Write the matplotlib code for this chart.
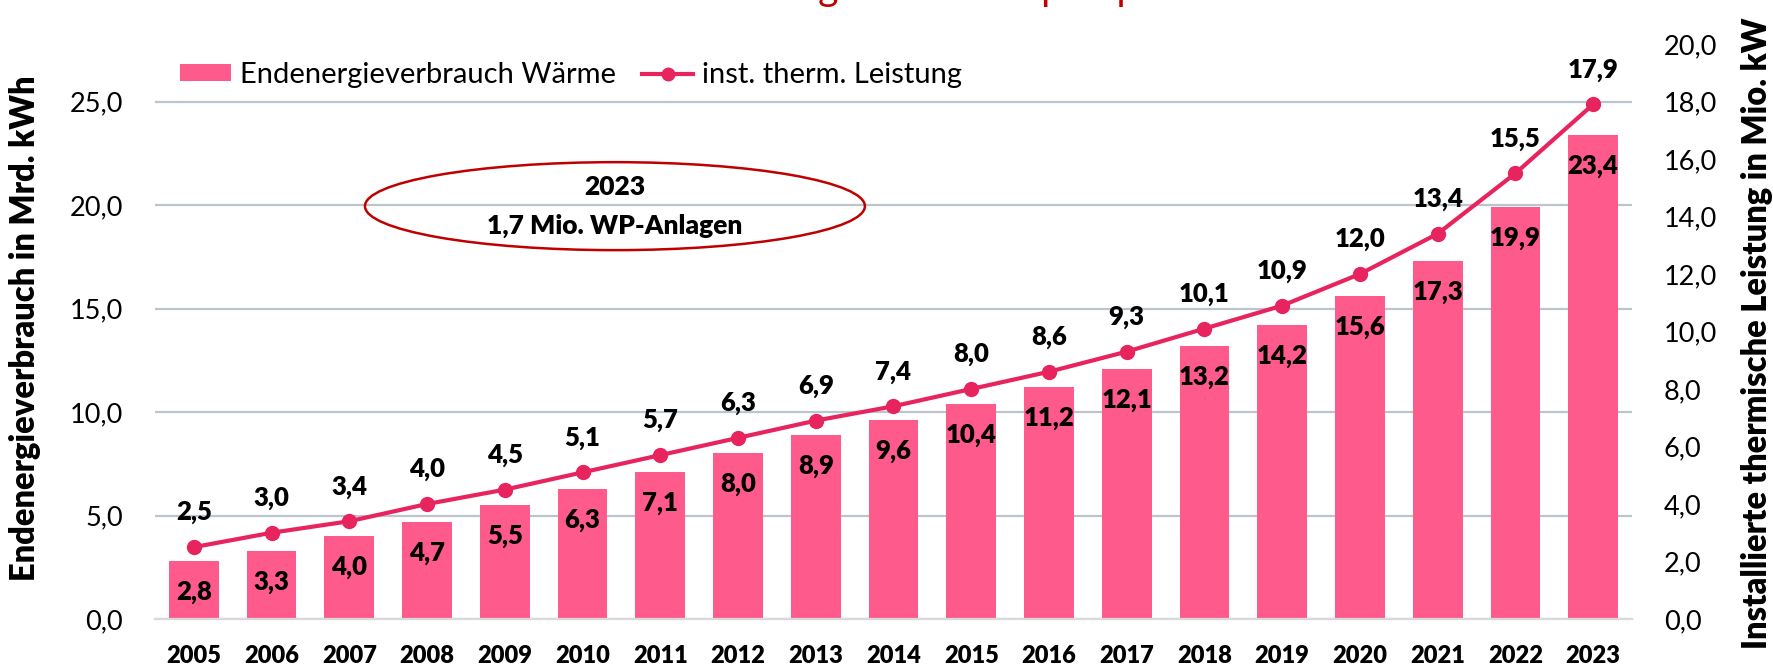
import matplotlib
matplotlib.use("Agg")
import matplotlib.pyplot as plt
from matplotlib.patches import Ellipse, Patch
from matplotlib.lines import Line2D
import numpy as np

plt.rcParams['font.family'] = ['Lato', 'DejaVu Sans']

years = ["2005", "2006", "2007", "2008", "2009", "2010", "2011", "2012", "2013", "2014",
         "2015", "2016", "2017", "2018", "2019", "2020", "2021", "2022", "2023"]
waerme = [2.8, 3.3, 4.0, 4.7, 5.5, 6.3, 7.1, 8.0, 8.9, 9.6,
          10.4, 11.2, 12.1, 13.2, 14.2, 15.6, 17.3, 19.9, 23.4]
leistung = [2.5, 3.0, 3.4, 4.0, 4.5, 5.1, 5.7, 6.3, 6.9, 7.4,
            8.0, 8.6, 9.3, 10.1, 10.9, 12.0, 13.4, 15.5, 17.9]
left_ticks = [0, 5, 10, 15, 20, 25]
right_ticks = [0, 2, 4, 6, 8, 10, 12, 14, 16, 18, 20]

BAR = "#FF5A8C"
LINE = "#E8245F"
RED = "#C00000"
GRID = "#BCC5CE"

def de(v):
    return f"{v:.1f}".replace(".", ",")

W, H = 1774, 666
fig = plt.figure(figsize=(W / 100, H / 100), dpi=100)
ax = fig.add_axes([155 / W, 1 - 619 / H, (1632 - 155) / W, (619 - 44) / H])
ax2 = ax.twinx()

x = np.arange(len(years))
ax.bar(x, waerme, width=0.64, color=BAR, zorder=2)
ax.set_xlim(-0.5, len(years) - 0.5)
ax.set_ylim(0, 25 * 20 / 18)
ax.set_yticks(left_ticks)
ax.set_yticklabels([de(v) for v in left_ticks])
ax.set_xticks(x)
ax.set_xticklabels(years, fontweight="heavy", fontsize=17)
ax.tick_params(axis="x", length=0, pad=19)
ax.tick_params(axis="y", length=0, pad=23, labelsize=19.5)
ax.grid(axis="y", color=GRID, lw=1.6, zorder=0)
ax.set_axisbelow(True)
for s in ["left", "right", "top"]:
    ax.spines[s].set_visible(False)
ax.spines["bottom"].set_color("#D9D9D9")
ax.spines["bottom"].set_linewidth(1.6)

for xi, v in zip(x, waerme):
    ax.annotate(de(v), (xi, v), xytext=(0, -22.3), textcoords="offset points",
                ha="center", va="center", fontsize=18.5, fontweight="heavy", zorder=5)

ax2.plot(x, leistung, color=LINE, lw=3, marker="o", ms=10, zorder=4)
ax2.set_ylim(0, 20)
ax2.set_yticks(right_ticks)
ax2.set_yticklabels([de(v) for v in right_ticks])
ax2.tick_params(axis="y", length=0, pad=23, labelsize=19.5)
for s in ["left", "right", "top", "bottom"]:
    ax2.spines[s].set_visible(False)
for xi, v in zip(x, leistung):
    ax2.annotate(de(v), (xi, v), xytext=(0, 25), textcoords="offset points",
                 ha="center", va="center", fontsize=18.5, fontweight="heavy", zorder=5)

# ellipse annotation
ell = Ellipse((0.3114, 0.718), 0.3385, 0.153, transform=ax.transAxes,
              fill=False, edgecolor=RED, lw=1.8, zorder=6)
ax2.add_patch(ell)
ax2.text(0.3114, 0.751, "2023", transform=ax.transAxes, ha="center", va="center",
         fontsize=19, fontweight="heavy", zorder=7)
ax2.text(0.3114, 0.683, "1,7 Mio. WP-Anlagen", transform=ax.transAxes, ha="center",
         va="center", fontsize=19, fontweight="heavy", zorder=7)

# legend
handles = [Patch(facecolor=BAR, edgecolor="none"),
           Line2D([0], [0], color=LINE, lw=3, marker="o", ms=9)]
fig.legend(handles, ["Endenergieverbrauch Wärme", "inst. therm. Leistung"],
           loc="center left", bbox_to_anchor=(180 / W, 1 - 75 / H), ncol=2,
           frameon=False, fontsize=21, handlelength=1.75, handleheight=0.5,
           handletextpad=0.3, columnspacing=0.9, borderpad=0, borderaxespad=0)

# axis titles
fig.text(25 / W, 1 - 328 / H, "Endenergieverbrauch in Mrd. kWh", rotation=90,
         ha="center", va="center", fontsize=23.5, fontweight="heavy")
fig.text(1757 / W, 0.5, "Installierte thermische Leistung in Mio. kW", rotation=90,
         ha="center", va="center", fontsize=23.5, fontweight="heavy")

# title (cut off at the top edge, only descenders visible)
fig.text(0.51, 1.0, "Entwicklung der Wärmepumpen", ha="center", va="baseline",
         fontsize=28, color=RED)

fig.savefig("out.png", dpi=100)
